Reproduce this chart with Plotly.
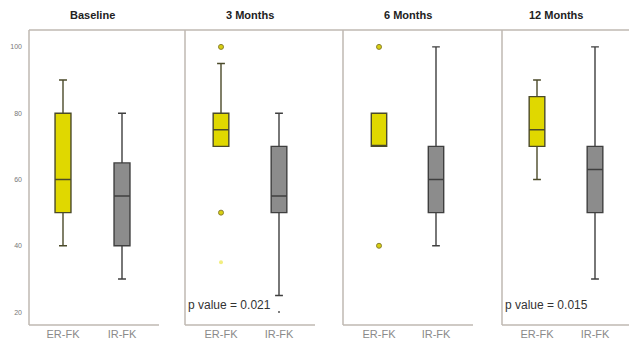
import plotly.graph_objects as go
from plotly.subplots import make_subplots

# ---------------- data ----------------
panels = ["Baseline", "3 Months", "6 Months", "12 Months"]
groups = ["ER-FK", "IR-FK"]

# box statistics per panel: [ER-FK, IR-FK]
lowerfence = [[40, 30], [70, 25], [70, 40], [60, 30]]
q1 =         [[50, 40], [70, 50], [70, 50], [70, 50]]
median =     [[60, 55], [75, 55], [70, 60], [75, 63]]
q3 =         [[80, 65], [80, 70], [80, 70], [85, 70]]
upperfence = [[90, 80], [95, 80], [80, 100], [90, 100]]

# outliers per panel
outliers_er = [[], [100, 50], [100, 40], []]
faint_er = [[], [35], [], []]
outliers_ir = [[], [20], [], []]

p_values = [None, "p value = 0.021", None, "p value = 0.015"]
y_ticks = [20, 40, 60, 80, 100]

# ---------------- style ----------------
W, H = 629, 345
ML, MR, MT, MB = 29, 0, 30, 20
panel_px = [(29, 185), (185, 343), (343, 502), (502, 629)]
center_px = [(63, 122), (221, 279), (379, 436), (537, 595)]
plot_w = W - ML - MR
plot_h = H - MT - MB

fills = ["#e0d800", "#8c8c8c"]
lines = ["#4b4a2a", "#3f3f3f"]
border = "#bfb8b2"

fig = make_subplots(rows=1, cols=4, shared_yaxes=True, horizontal_spacing=0)

for i in range(4):
    col = i + 1
    for g in range(2):
        fig.add_trace(go.Box(
            x=[groups[g]], q1=[q1[i][g]], median=[median[i][g]], q3=[q3[i][g]],
            lowerfence=[lowerfence[i][g]], upperfence=[upperfence[i][g]],
            fillcolor=fills[g], line=dict(color=lines[g], width=1.4),
            width=0.27, whiskerwidth=0.5, boxpoints=False, showlegend=False,
            hoverinfo="skip"), row=1, col=col)
    if outliers_er[i]:
        fig.add_trace(go.Scatter(
            x=[groups[0]] * len(outliers_er[i]), y=outliers_er[i], mode="markers",
            marker=dict(size=5, color="#d8cf10", line=dict(color="#8a8030", width=1)),
            showlegend=False, hoverinfo="skip"), row=1, col=col)
    if faint_er[i]:
        fig.add_trace(go.Scatter(
            x=[groups[0]] * len(faint_er[i]), y=faint_er[i], mode="markers",
            marker=dict(size=4, color="#f2ee80"),
            showlegend=False, hoverinfo="skip"), row=1, col=col)
    if outliers_ir[i]:
        fig.add_trace(go.Scatter(
            x=[groups[1]] * len(outliers_ir[i]), y=outliers_ir[i], mode="markers",
            marker=dict(size=2, color="#555555"),
            showlegend=False, hoverinfo="skip"), row=1, col=col)

    l, r = panel_px[i]
    c0, c1 = center_px[i]
    sp = c1 - c0
    xr = [-(c0 - l) / sp, 1 + (r - c1) / sp]
    dom = [(l - ML) / plot_w, (r - ML) / plot_w]
    fig.update_xaxes(row=1, col=col, domain=dom, range=xr, type="category",
                     categoryorder="array", categoryarray=groups,
                     showgrid=False, zeroline=False, showline=False,
                     tickfont=dict(family="Liberation Sans, Arial", size=11, color="#8a8a8a"),
                     ticks="", ticklabelstandoff=1)
    title_x = 0.5 if i < 3 else 0.33
    fig.add_annotation(xref=f"x{'' if col == 1 else col}", yref="paper",
                       x=title_x, y=1, yshift=15, yanchor="middle",
                       text=f"<b>{panels[i]}</b>", showarrow=False,
                       font=dict(family="Liberation Sans, Arial", size=11, color="#222222"))
    if p_values[i]:
        fig.add_annotation(xref="paper", yref="paper",
                           x=(l + 1 - ML) / plot_w, y=(H - MB - 305) / plot_h,
                           xanchor="left", yanchor="middle", text=p_values[i], showarrow=False,
                           font=dict(family="Liberation Sans, Arial", size=12, color="#333333"))
    xp = (l - ML) / plot_w
    fig.add_shape(type="line", xref="paper", yref="paper", x0=xp, x1=xp, y0=0, y1=1,
                  line=dict(color=border, width=1.5))
    bx1 = min(1.0, (l + 130 - ML) / plot_w) if i < 3 else 1.0
    fig.add_shape(type="line", xref="paper", yref="paper", x0=xp, x1=bx1, y0=0, y1=0,
                  line=dict(color=border, width=1.5))

fig.add_shape(type="line", xref="paper", yref="paper", x0=0, x1=1, y0=1, y1=1,
              line=dict(color=border, width=1.5))

ytop, ybot = 105.1, 16.1
fig.update_yaxes(range=[ybot, ytop], tickvals=y_ticks, ticktext=[str(v) for v in y_ticks],
                 showgrid=False, zeroline=False, showline=False,
                 tickfont=dict(family="Liberation Sans, Arial", size=7, color="#777777"))
fig.update_yaxes(row=1, col=1, ticks="", ticklabelstandoff=6)

fig.update_layout(width=W, height=H, margin=dict(l=ML, r=MR, t=MT, b=MB),
                  plot_bgcolor="white", paper_bgcolor="white", showlegend=False)

fig.write_html("out.html", config={"displayModeBar": False},
               post_script="document.body.style.margin='0px';document.body.style.overflow='hidden';")
